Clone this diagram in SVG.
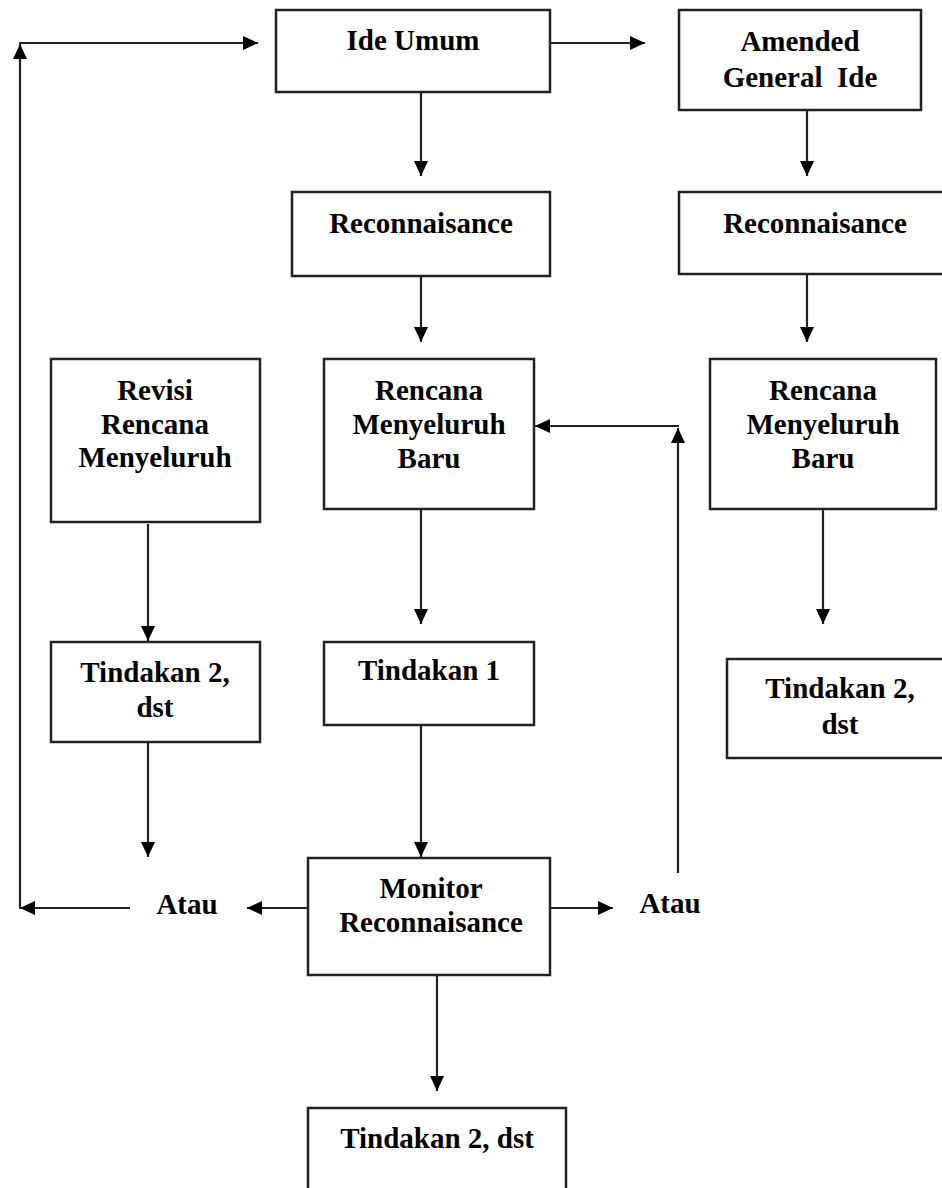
<svg xmlns="http://www.w3.org/2000/svg" width="942" height="1188" viewBox="0 0 942 1188">
<style>
.box{fill:#fff;stroke:#222;stroke-width:2.5}
.t{font-family:"Liberation Serif","Times New Roman",serif;font-weight:bold;font-size:29px;fill:#000;text-anchor:middle}
.c{fill:none;stroke:#222;stroke-width:2.2;marker-end:url(#ah)}
.p{fill:none;stroke:#222;stroke-width:2.2}
</style>
<defs>
<marker id="ah" markerUnits="userSpaceOnUse" markerWidth="16" markerHeight="14" refX="15" refY="7" orient="auto">
<path d="M0,0 L15,7 L0,14 z" fill="#000"/>
</marker>
</defs>
<rect width="942" height="1188" fill="#fff"/>
<g id="connectors">
<line class="c" x1="130" y1="908" x2="20" y2="908"/>
<line class="c" x1="20" y1="909" x2="20" y2="44"/>
<line class="c" x1="19" y1="43" x2="258" y2="43"/>
<line class="c" x1="550" y1="43" x2="645" y2="43"/>
<line class="c" x1="421" y1="92" x2="421" y2="176"/>
<line class="c" x1="807" y1="110" x2="807" y2="176"/>
<line class="c" x1="421" y1="276" x2="421" y2="342"/>
<line class="c" x1="807" y1="274" x2="807" y2="342"/>
<line class="c" x1="148" y1="524" x2="148" y2="641"/>
<line class="c" x1="421" y1="509" x2="421" y2="624"/>
<line class="c" x1="823" y1="509" x2="823" y2="624"/>
<line class="c" x1="148" y1="742" x2="148" y2="857"/>
<line class="c" x1="421" y1="725" x2="421" y2="857"/>
<line class="c" x1="308" y1="908" x2="247" y2="908"/>
<line class="c" x1="550" y1="908" x2="613" y2="908"/>
<line class="c" x1="678" y1="873" x2="678" y2="428"/>
<line class="c" x1="679" y1="426" x2="535" y2="426"/>
<line class="c" x1="437" y1="975" x2="437" y2="1091"/>
</g>
<g id="ide-umum">
<rect class="box" x="276" y="10" width="274" height="82"/>
<text class="t" x="413" y="50">Ide Umum</text>
</g>
<g id="amended">
<rect class="box" x="679" y="10" width="242" height="100"/>
<text class="t" x="800" y="51">Amended</text>
<text class="t" x="800" y="87" xml:space="preserve">General  Ide</text>
</g>
<g id="recon1">
<rect class="box" x="292" y="192" width="258" height="84"/>
<text class="t" x="421" y="233">Reconnaisance</text>
</g>
<g id="recon2">
<rect class="box" x="679" y="192" width="274" height="82"/>
<text class="t" x="815" y="233">Reconnaisance</text>
</g>
<g id="revisi">
<rect class="box" x="51" y="359" width="209" height="163"/>
<text class="t" x="155" y="400">Revisi</text>
<text class="t" x="155" y="434">Rencana</text>
<text class="t" x="155" y="467">Menyeluruh</text>
</g>
<g id="rencana-mid">
<rect class="box" x="324" y="359" width="210" height="150"/>
<text class="t" x="429" y="400">Rencana</text>
<text class="t" x="429" y="434">Menyeluruh</text>
<text class="t" x="429" y="468">Baru</text>
</g>
<g id="rencana-right">
<rect class="box" x="710" y="359" width="226" height="150"/>
<text class="t" x="823" y="400">Rencana</text>
<text class="t" x="823" y="434">Menyeluruh</text>
<text class="t" x="823" y="468">Baru</text>
</g>
<g id="tindakan2-left">
<rect class="box" x="51" y="642" width="209" height="100"/>
<text class="t" x="155" y="682">Tindakan 2,</text>
<text class="t" x="155" y="717">dst</text>
</g>
<g id="tindakan1">
<rect class="box" x="324" y="642" width="210" height="83"/>
<text class="t" x="429" y="680">Tindakan 1</text>
</g>
<g id="tindakan2-right">
<rect class="box" x="727" y="659" width="226" height="99"/>
<text class="t" x="840" y="698">Tindakan 2,</text>
<text class="t" x="840" y="734">dst</text>
</g>
<g id="atau-left">
<text class="t" x="187" y="914">Atau</text>
</g>
<g id="monitor">
<rect class="box" x="308" y="858" width="242" height="117"/>
<text class="t" x="431" y="898">Monitor</text>
<text class="t" x="431" y="932">Reconnaisance</text>
</g>
<g id="atau-right">
<text class="t" x="670" y="913">Atau</text>
</g>
<g id="tindakan2-bottom">
<rect class="box" x="308" y="1108" width="258" height="100"/>
<text class="t" x="437" y="1148">Tindakan 2, dst</text>
</g>
</svg>
